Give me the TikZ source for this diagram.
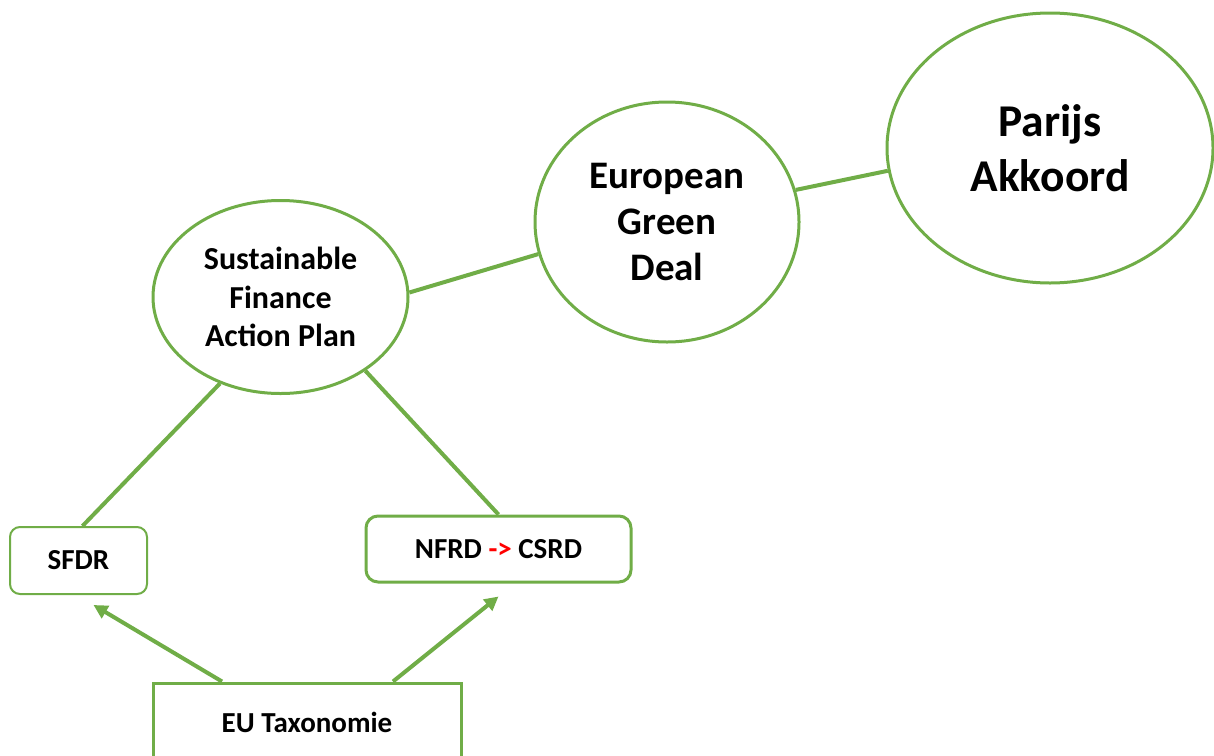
\documentclass[tikz,border=0pt]{standalone}
\usepackage{fontspec}
\setmainfont{Carlito}
\usetikzlibrary{shapes.geometric,arrows.meta}
\definecolor{lgreen}{HTML}{70AD47}
\definecolor{tred}{HTML}{FF0000}
\tikzset{
  bubble/.style={ellipse, draw=lgreen, line width=3pt, fill=white, inner sep=0pt, align=center, font=\bfseries},
  rbox/.style={rectangle, rounded corners=10pt, draw=lgreen, fill=white, inner sep=0pt, align=center, font=\bfseries\fontsize{29}{34}\selectfont},
  sbox/.style={rectangle, draw=lgreen, line width=3pt, fill=white, inner sep=0pt, align=center, font=\bfseries\fontsize{29}{34}\selectfont},
  link/.style={draw=lgreen, line width=4pt},
  arr/.style={draw=lgreen, line width=4pt, -{Triangle[length=14pt,width=14pt]}}
}
\begin{document}
\begin{tikzpicture}[x=1pt,y=-1pt]
\useasboundingbox (0,0) rectangle (1214,755);
\clip (0,0) rectangle (1214,755);
% ellipses
\node[bubble, minimum width=255pt, minimum height=193pt, font=\bfseries\fontsize{32}{38.5}\selectfont] (sf) at (280.5,297) {Sustainable\\Finance\\Action Plan};
\node[bubble, minimum width=264pt, minimum height=240pt, font=\bfseries\fontsize{39}{46}\selectfont] (egd) at (667,222) {European\\Green\\Deal};
\node[bubble, minimum width=326pt, minimum height=270pt, font=\bfseries\fontsize{45.5}{55}\selectfont] (pa) at (1050,148) {Parijs\\Akkoord};
% boxes
\node[rbox, line width=2pt, minimum width=137pt, minimum height=67pt] (sfdr) at (78.5,560.5) {SFDR};
\node[rbox, line width=3pt, rounded corners=12pt, minimum width=265pt, minimum height=66pt] (nfrd) at (498.5,549) {NFRD \textcolor{tred}{->} CSRD};
\node[sbox, minimum width=308pt, minimum height=78pt] (eu) at (307,722) {EU Taxonomie};
% connectors
\draw[link] (sf.2) -- (egd.194);
\draw[link] (egd.14) -- (pa.188);
\draw[link] (sf.235) -- ([xshift=4pt]sfdr.north);
\draw[link] (sf.319) -- (nfrd.north);
\draw[arr] ([xshift=-85pt]eu.north) -- ([xshift=15pt,yshift=-10pt]sfdr.south);
\draw[arr] ([xshift=86pt]eu.north) -- ([yshift=-13pt]nfrd.south);
\end{tikzpicture}
\end{document}
